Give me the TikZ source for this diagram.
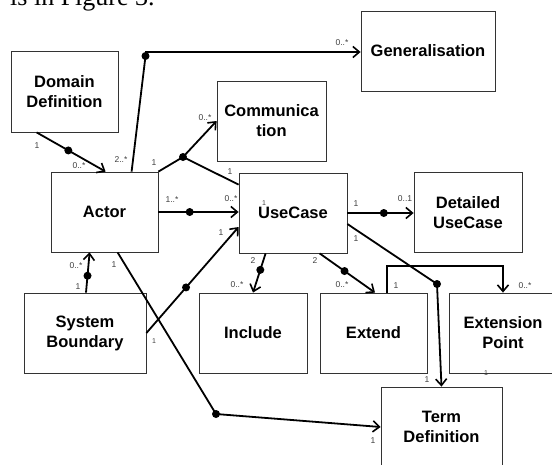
\documentclass[tikz,border=0pt]{standalone}
\usepackage{fontspec}
\setmainfont{Liberation Serif}
\setsansfont{Liberation Sans}
\usetikzlibrary{arrows.meta}
\tikzset{
  box/.style={draw=black!80, line width=0.8pt, fill=white, inner sep=0pt, align=center,
    font=\sffamily\bfseries\fontsize{16.5}{20}\selectfont},
  conn/.style={line width=1.8pt, black},
  arr/.style={-{Straight Barb[length=6.5pt,width=11pt,line width=1.6pt]}},
  dot/.style={circle, fill=black, inner sep=0pt, minimum size=8pt},
  lab/.style={font=\sffamily\fontsize{8.5}{10}\selectfont, text=black!75, inner sep=0pt},
  slab/.style={font=\sffamily\fontsize{7}{8}\selectfont, text=black!75, inner sep=0pt},
}
\begin{document}
\begin{tikzpicture}[x=1pt,y=-1pt]
\useasboundingbox (0,0) rectangle (552,464);
\clip (0,0) rectangle (552,464);
\fill[white] (0,0) rectangle (552,464);

% page text cut at the top
\node[anchor=base west, inner sep=0pt, font=\rmfamily\fontsize{26}{30}\selectfont] (pagetext) at (10,5) {is in Figure 3.};

% boxes
\node[box, minimum width=107pt, minimum height=81pt] (dom) at (64.5,91.5) {Domain\\Definition};
\node[box, minimum width=134pt, minimum height=80pt] (gen) at (428,51) {Generalisation};
\node[box, minimum width=109pt, minimum height=80pt] (com) at (271.5,121) {Communica\\tion};
\node[box, minimum width=107pt, minimum height=80pt] (act) at (104.5,212) {Actor};
\node[box, minimum width=108pt, minimum height=80pt] (uc) at (293,213) {UseCase};
\node[box, minimum width=108pt, minimum height=80pt] (det) at (468,212.5) {Detailed\\UseCase};
\node[box, minimum width=122pt, minimum height=80pt] (sys) at (85,333) {System\\Boundary};
\node[box, minimum width=108pt, minimum height=80pt] (inc) at (253,333) {Include};
\node[box, minimum width=107pt, minimum height=80pt] (ext) at (373.5,333) {Extend};
\node[box, minimum width=108pt, minimum height=80pt] (ep) at (503,333) {Extension\\Point};
\node[box, minimum width=121pt, minimum height=80pt] (td) at (441.5,427) {Term\\Definition};

% waypoints
\coordinate (c2) at (146,52);
\coordinate (c3) at (183,157);
\coordinate (c7) at (216,414);
\coordinate (c11) at (437,284);

% Domain Definition -> Actor
\draw[conn, arr] ([xshift=26pt]dom.south west) -- node[dot, pos=0.46] (d1) {} ([xshift=55pt]act.north west);
% Actor -> Generalisation
\draw[conn, arr] ([xshift=81pt]act.north west) -- (c2) -- (c2 -| gen.west);
\node[dot] (d2) at (145.5,56) {};
% Actor -> Communication / UseCase
\draw[conn] (act.north east) -- (c3);
\draw[conn, arr] (c3) -- (com.west);
\draw[conn] (c3) -- ([yshift=-12pt]uc.north west);
\node[dot] (d3) at (c3) {};
% Actor -> UseCase
\draw[conn, arr] (act.east) -- node[dot, pos=0.39] (d4) {} (act.east -| uc.west);
% System Boundary -> Actor
\draw[conn, arr] ([xshift=1pt]sys.north) -- node[dot, pos=0.42] (d5) {} ([xshift=39pt]act.south west);
% System Boundary -> UseCase
\draw[conn, arr] (sys.east) -- node[dot, pos=0.43] (d6) {} ([yshift=-14pt]uc.west);
% Actor -> Term Definition
\draw[conn, arr] ([xshift=67pt]act.south west) -- (c7) -- (td.west);
\node[dot] (d7) at (c7) {};
% UseCase -> Include
\draw[conn, arr] ([xshift=27pt]uc.south west) -- node[dot, pos=0.42] (d8) {} (inc.north);
% UseCase -> Extend
\draw[conn, arr] ([xshift=81pt]uc.south west) -- node[dot, pos=0.45] (d9) {} ([xshift=1.5pt]ext.north);
% UseCase -> Detailed UseCase
\draw[conn, arr] (uc.east) -- node[dot, pos=0.55] (d10) {} (uc.east -| det.west);
% UseCase -> Term Definition
\draw[conn, arr] ([yshift=-11pt]uc.east) -- (c11) -- (td.north);
\node[dot] (d11) at (c11) {};
% Extend -> Extension Point
\draw[conn, arr] ([xshift=67pt]ext.north west) -- ++(0,-27) -| (ep.north);

% multiplicity labels
\node[lab] (l1) at (37,146) {1};
\node[lab] (l2) at (79,166) {0..*};
\node[lab] (l3) at (121,160) {2..*};
\node[lab] (l4) at (342,43) {0..*};
\node[lab] (l5) at (154,163) {1};
\node[lab] (l6) at (205,118) {0..*};
\node[lab] (l7) at (230,172) {1};
\node[lab] (l8) at (172,200) {1..*};
\node[lab] (l9) at (231,199) {0..*};
\node[slab] (l10) at (264,203) {1};
\node[lab] (l11) at (221,233) {1};
\node[lab] (l12) at (76,266) {0..*};
\node[lab] (l13) at (78,287) {1};
\node[lab] (l14) at (114,265) {1};
\node[slab] (l15) at (154,341) {1};
\node[lab] (l16) at (253,261) {2};
\node[lab] (l17) at (237,285) {0..*};
\node[lab] (l18) at (315,261) {2};
\node[lab] (l19) at (342,285) {0..*};
\node[lab] (l20) at (356,204) {1};
\node[lab] (l21) at (405,199) {0..1};
\node[lab] (l22) at (356,239) {1};
\node[lab] (l23) at (396,286) {1};
\node[lab] (l24) at (525,286) {0..*};
\node[lab] (l25) at (427,380) {1};
\node[slab] (l26) at (486,373) {1};
\node[lab] (l27) at (373,441) {1};
\end{tikzpicture}
\end{document}
